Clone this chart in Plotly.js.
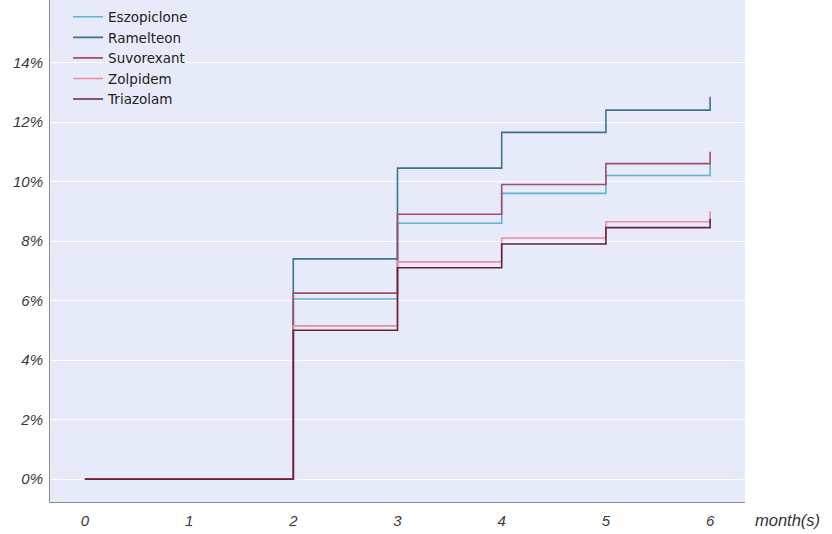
<!DOCTYPE html>
<html>
<head>
<meta charset="utf-8">
<script src="https://cdn.plot.ly/plotly-3.0.1.min.js"></script>
<style>html,body{margin:0;padding:0;background:#fff;}#chart{width:832px;height:534px;}</style>
</head>
<body>
<div id="chart"></div>
<script>
const months = [0, 1, 2, 3, 4, 5, 6];
const tickVals = [0, 2, 4, 6, 8, 10, 12, 14];
const seriesNames = ["Eszopiclone", "Ramelteon", "Suvorexant", "Zolpidem", "Triazolam"];
const eszopiclone = [0, 0, 6.05, 8.6, 9.6, 10.2, 10.6];
const ramelteon   = [0, 0, 7.4, 10.45, 11.65, 12.4, 12.85];
const suvorexant  = [0, 0, 6.25, 8.9, 9.9, 10.6, 11.0];
const zolpidem    = [0, 0, 5.15, 7.3, 8.1, 8.65, 9.0];
const triazolam   = [0, 0, 5.0, 7.1, 7.9, 8.45, 8.75];
const colors = ["#5fb4d3", "#3d7585", "#a24c70", "#ea8fa3", "#6a2238"];

const values = [eszopiclone, ramelteon, suvorexant, zolpidem, triazolam];
const traces = seriesNames.map((n, i) => ({
  type: "scatter", mode: "lines", name: n,
  x: months, y: values[i],
  line: {shape: "hv", color: colors[i], width: 1.6}
}));

const layout = {
  width: 832, height: 534,
  margin: {l: 50, r: 87, t: 0, b: 32},
  paper_bgcolor: "#ffffff",
  plot_bgcolor: "#e7eaf9",
  font: {family: "Liberation Sans, Arial, sans-serif", size: 14, color: "#333"},
  showlegend: true,
  legend: {x: 0.026, y: 0.997, xanchor: "left", yanchor: "top", bgcolor: "rgba(0,0,0,0)",
           font: {family: "DejaVu Sans, sans-serif", size: 13.5, color: "#222"}, tracegroupgap: 0},
  xaxis: {range: [-0.335, 6.335], tickvals: months, ticktext: months.map(String),
          showgrid: false, zeroline: false, showline: true, linecolor: "#8c8c8c", linewidth: 1,
          ticks: "", ticklabelstandoff: 5, tickfont: {size: 15, color: "#3a3a3a", style: "italic"}},
  yaxis: {range: [-0.77, 16.1], tickvals: tickVals, ticktext: tickVals.map(v => v + "%"),
          showgrid: true, gridcolor: "#ffffff", gridwidth: 1, zeroline: false,
          showline: true, linecolor: "#8c8c8c", linewidth: 1, ticks: "", ticklabelstandoff: 3,
          tickfont: {size: 15, color: "#3a3a3a", style: "italic"}},
  annotations: [{text: "month(s)", xref: "paper", yref: "paper", x: 1.012, y: 0, xanchor: "left", yanchor: "top",
                 yshift: -7, showarrow: false, font: {size: 16.5, color: "#333", style: "italic"}}]
};
Plotly.newPlot("chart", traces, layout, {displayModeBar: false});
</script>
</body>
</html>
